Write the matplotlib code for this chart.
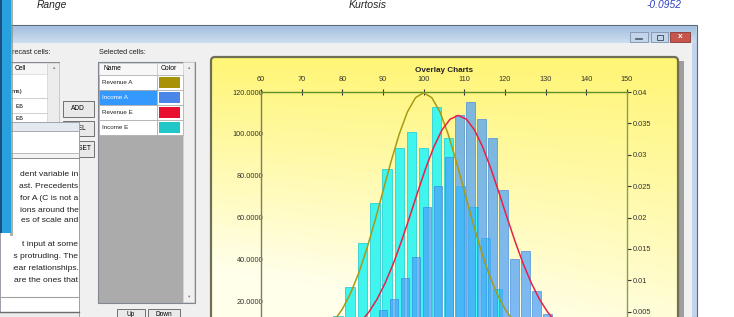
import numpy as np
import matplotlib
matplotlib.use("Agg")
import matplotlib.pyplot as plt
from matplotlib.patches import Rectangle, FancyBboxPatch
from matplotlib.transforms import Bbox, TransformedBbox

plt.rcParams['font.family'] = ['Liberation Sans', 'DejaVu Sans']

W, H = 734, 317  # screenshot size in pixels

# ---- chart data ----
# Income E histogram (cyan bars, left axis)
income_e_x = [75.9, 78.9, 81.9, 84.9, 88.0, 91.0, 94.0, 97.0, 100.0, 103.1,
              106.1, 109.1, 112.1, 115.2, 118.2, 121.2]
income_e_y = [5, 13, 27, 48, 67, 83, 93, 101, 93, 113, 98, 75, 65, 50, 26, 9]

# Income A histogram (blue bars, left axis)
income_a_x = [87.25, 89.95, 92.65, 95.35, 98.05, 100.75, 103.45, 106.15, 108.85,
              111.55, 114.25, 116.95, 119.65, 122.35, 125.05, 127.75, 130.45, 133.15]
income_a_y = [9, 16, 21, 31, 41, 65, 75, 89, 109, 115, 107, 98, 73, 40, 44, 25, 14, 6]

# Revenue A fitted curve (olive, right axis)
revenue_a_x = [70, 72, 74, 76, 78, 80, 82, 84, 86, 88, 90, 92, 94, 96, 98, 100,
               102, 104, 106, 108, 110, 112, 114, 116, 118, 120, 122, 124, 126, 128, 130]
revenue_a_y = [0.00044, 0.00079, 0.00136, 0.00224, 0.00355, 0.00540, 0.00790, 0.01109,
               0.01497, 0.01942, 0.02420, 0.02897, 0.03332, 0.03683, 0.03910, 0.03989,
               0.03910, 0.03683, 0.03332, 0.02897, 0.02420, 0.01942, 0.01497, 0.01109,
               0.00790, 0.00540, 0.00355, 0.00224, 0.00136, 0.00079, 0.00044]

# Revenue E fitted curve (red, right axis)
revenue_e_x = [76.5, 78.5, 80.5, 82.5, 84.5, 86.5, 88.5, 90.5, 92.5, 94.5, 96.5, 98.5,
               100.5, 102.5, 104.5, 106.5, 108.5, 110.5, 112.5, 114.5, 116.5, 118.5,
               120.5, 122.5, 124.5, 126.5, 128.5, 130.5, 132.5, 134.5, 136.5, 138.5, 140.5]
revenue_e_y = [0.00053, 0.00088, 0.00142, 0.00222, 0.00336, 0.00491, 0.00694, 0.00951,
               0.01259, 0.01614, 0.02000, 0.02399, 0.02784, 0.03125, 0.03395, 0.03567,
               0.03627, 0.03567, 0.03395, 0.03125, 0.02784, 0.02399, 0.02000, 0.01614,
               0.01259, 0.00951, 0.00694, 0.00491, 0.00336, 0.00222, 0.00142, 0.00088, 0.00053]

top_ticks = [60, 70, 80, 90, 100, 110, 120, 130, 140, 150]
left_ticks = [20, 40, 60, 80, 100, 120]
left_labels = ['20.0000', '40.0000', '60.0000', '80.0000', '100.0000', '120.0000']
right_ticks = [0.005, 0.01, 0.015, 0.02, 0.025, 0.03, 0.035, 0.04]
right_labels = ['0.005', '0.01', '0.015', '0.02', '0.025', '0.03', '0.035', '0.04']

# ---- UI bits ----
selected_names = ['Revenue A', 'Income A', 'Revenue E', 'Income E']
selected_colors = ['#a89206', '#4a86e8', '#e8102e', '#22c6c6']
dialog_lines = ['dent variable in', 'ast. Precedents', 'for A (C is not a', 'ions around the',
                'es of scale and', 't input at some', 'egs protruding. The',
                'linear relationships.', 'are the ones that']
dialog_line_y = [174, 186, 198, 210, 221, 244, 256, 268, 280]

fig = plt.figure(figsize=(W / 100, H / 100), dpi=100)
fig.patch.set_facecolor('white')
ui = fig.add_axes([0, 0, 1, 1])
ui.axis('off')


def box(x0, y0, x1, y1, fc, ec='none', lw=0.8, z=1, alpha=1.0):
    r = Rectangle((x0, y0), x1 - x0, y1 - y0, facecolor=fc, edgecolor=ec,
                  linewidth=lw, zorder=z, alpha=alpha)
    ui.add_patch(r)
    return r


def label(x, y, s, size=5, z=5, **kw):
    return ui.text(x, y, s, fontsize=size, va='center', zorder=z, **kw)


# top strip of the stats window behind
label(37, 5, 'Range', 7.4, style='italic', color='#222222')
label(349, 5, 'Kurtosis', 7.6, style='italic', color='#222222')
label(681, 5, '-0.0952', 7.4, style='italic', color='#3040c0', ha='right')

# main window frame, title bar and client area
box(8, 25, 697, 317, '#c3d4ea', '#5b6878', 0.8, z=1)
tb = np.linspace(0, 1, 20)[:, None, None]
bar_img = np.array([0.64, 0.75, 0.87]) * (1 - tb) + np.array([0.80, 0.87, 0.94]) * tb
ui.imshow(bar_img, extent=[9, 696, 43, 26], aspect='auto', zorder=2)
box(9, 43, 692, 317, '#f0f0f0', z=2)
for bx0, bx1, fc, ec in [(630, 648, '#c4d5ea', '#7d92ad'), (651, 668, '#c4d5ea', '#7d92ad'),
                         (670, 690, '#c9544c', '#8a3a35')]:
    box(bx0, 32, bx1, 41.5, fc, ec, 0.6, z=3)
ui.plot([636, 642], [38.5, 38.5], color='#4a5a70', lw=1.2, zorder=4)
box(656.5, 34.5, 662.5, 39.5, 'none', '#4a5a70', 0.7, z=4)
label(680, 36.5, 'x', 6, z=4, ha='center', color='white', fontweight='bold')

# forecast cells list (left, partly hidden)
label(12, 52, 'recast cells:', 5.3, color='#222222')
box(10, 61.7, 59.3, 124, 'white', '#828790', 0.7, z=3)
box(11, 62.5, 47, 74, '#f6f6f6', '#d5d5d5', 0.5, z=3)
label(15, 68.5, 'Cell', 4.8)
box(47.3, 62.5, 58.8, 124, '#ececec', '#d0d0d0', 0.5, z=3)
label(53, 68, '\u25b2', 3.2, ha='center', color='#888888')
ui.plot([11, 47], [98.3, 98.3], color='#c8c8c8', lw=0.6, zorder=4)
ui.plot([11, 47], [113.3, 113.3], color='#c8c8c8', lw=0.6, zorder=4)
label(12, 91, 'ms)', 4.6)
label(15, 106, 'E6', 4.6)
label(15, 119, 'E6', 4.6)

# buttons
for y0, y1, t in [(101, 117, 'ADD'), (121, 136, 'DEL'), (141, 157, 'RESET')]:
    box(63, y0, 93.5, y1, '#e9e9e9', '#707070', 0.7, z=3)
    label(80 if t != 'ADD' else 78, (y0 + y1) / 2, t, 4.8, z=4, ha='center')

# dialog window on top (left)
box(0, 121.7, 79, 317, 'white', '#9aa0a8', 0.7, z=8)
box(0, 121.7, 79, 131, '#e4e9f1', '#9aa0a8', 0.6, z=8)
ui.plot([0, 79], [153.3, 153.3], color='#b0b0b0', lw=0.6, zorder=9)
box(0, 153.8, 79, 158, '#f3f3f3', z=8)
ui.plot([0, 79], [158.2, 158.2], color='#8a8a8a', lw=0.7, zorder=9)
clip = TransformedBbox(Bbox([[12.5, 0], [79, H]]), ui.transData)
for s, yy in zip(dialog_lines, dialog_line_y):
    t = label(78.5, yy, s, 6.1, z=9, ha='right', color='#1e1e1e')
    t.set_clip_box(clip)
    t.set_clip_on(True)
ui.plot([0, 79], [297, 297], color='#a0a0a0', lw=0.8, zorder=9)
ui.plot([0, 79], [311.7, 311.7], color='#6c6c6c', lw=1.0, zorder=9)
box(0, 312.2, 79, 317, '#ececec', z=8)

# other window's blue edge with shadow
box(10, 0, 13, 236, '#8c8c8c', z=19, alpha=0.7)
box(0, 0, 10.5, 233, '#27a0de', z=20)
box(0, 0, 1.6, 233, '#1f4f7e', z=21)

# selected cells list
label(99, 52, 'Selected cells:', 5.3, color='#222222')
box(98, 61.7, 195, 303, '#ababab', '#828790', 0.8, z=3)
box(98.6, 62.5, 183, 74.5, '#f7f7f7', '#d0d0d0', 0.5, z=3)
ui.plot([157, 157], [62.5, 74.5], color='#c8c8c8', lw=0.6, zorder=4)
label(103, 68.5, 'Name', 4.9)
label(161, 68.5, 'Color', 4.9)
box(183, 62.4, 194.4, 302.4, '#f0f0f0', '#d6d6d6', 0.5, z=3)
label(188.7, 68, '\u25b2', 3.2, ha='center', color='#888888')
label(188.7, 297, '\u25bc', 3.2, ha='center', color='#888888')
for i, (nm, col) in enumerate(zip(selected_names, selected_colors)):
    y0 = 75 + 15 * i
    sel = nm == 'Income A'
    box(98.6, y0, 157, y0 + 15, '#3399ff' if sel else 'white', '#a8a8a8', 0.5, z=3)
    box(157, y0, 182.5, y0 + 15, 'white', '#a8a8a8', 0.5, z=3)
    box(159.3, y0 + 1.7, 180.3, y0 + 13.3, col, z=4)
    label(102, y0 + 7.5, nm, 4.5, color='white' if sel else '#222222')

# up / down buttons
box(117, 309, 144.5, 320, '#e9e9e9', '#707070', 0.7, z=3)
box(148, 309, 180, 320, '#e9e9e9', '#707070', 0.7, z=3)
label(130.7, 314.3, 'Up', 4.7, ha='center')
label(164, 314.3, 'Down', 4.7, ha='center')

# chart panel with yellow gradient and shadow
box(678, 61, 683.5, 317, '#8f8f8f', z=2, alpha=0.85)
panel = FancyBboxPatch((211, 57), 467, 265, boxstyle='round,pad=0,rounding_size=4',
                       facecolor='none', edgecolor='#6f6f55', linewidth=1.6, zorder=4)
ui.add_patch(panel)
ys = np.linspace(0, 1, 120)[:, None]
xs = np.linspace(0, 1, 160)[None, :]
wgt = np.clip(ys * (0.85 + 0.40 * (1 - xs)), 0, 1)
grad = np.dstack([np.ones_like(wgt), 0.962 + 0.038 * wgt, 0.46 + 0.46 * wgt])
im = ui.imshow(grad, extent=[211, 678, 322, 57], aspect='auto', zorder=3)
im.set_clip_path(panel)
label(444, 71, 'Overlay Charts', 5.9, z=6, ha='center', fontweight='bold', color='#222222')

ui.set_xlim(0, W)
ui.set_ylim(H, 0)

# ---- the chart itself ----
ax = fig.add_axes([261 / W, (H - 343) / H, 366 / W, 251 / H])
ax.patch.set_alpha(0)
ax.bar(income_e_x, income_e_y, width=2.3, color='#3ff5ee', edgecolor='#2fcfd6',
       linewidth=0.6, zorder=2)
ax.bar(income_a_x, income_a_y, width=2.05, color='#4b9ff9', alpha=0.72,
       edgecolor='#3a84de', linewidth=0.6, zorder=3)
ax.set_xlim(60, 150)
ax.set_ylim(0, 120)
ax.xaxis.tick_top()
ax.set_xticks(top_ticks)
ax.tick_params(axis='x', direction='inout', length=4, width=0.8, colors='#333333',
               labelsize=5.3, pad=4.5)
ax.set_yticks(left_ticks)
ax.set_yticklabels(left_labels)
ax.tick_params(axis='y', length=0, pad=-1.6, labelsize=5.3, labelcolor='#333333')
ax.spines['bottom'].set_visible(False)
ax.spines['right'].set_visible(False)
ax.spines['top'].set_color('#5d8f2c')
ax.spines['left'].set_color('#7d7d60')
ax.spines['top'].set_linewidth(1.0)
ax.spines['left'].set_linewidth(1.0)

ax2 = ax.twinx()
ax2.plot(revenue_a_x, revenue_a_y, color='#a89a14', lw=1.1, zorder=4)
ax2.plot(revenue_e_x, revenue_e_y, color='#e8204c', lw=1.1, zorder=4)
ax2.set_ylim(0, 0.04)
ax2.set_yticks(right_ticks)
ax2.set_yticklabels(right_labels)
ax2.tick_params(axis='y', direction='out', length=3, width=0.8, colors='#333333',
                labelsize=5.3, pad=1)
for s in ['top', 'bottom', 'left']:
    ax2.spines[s].set_visible(False)
ax2.spines['right'].set_color('#86a055')
ax2.spines['right'].set_linewidth(1.0)

fig.savefig('out.png', dpi=100)
